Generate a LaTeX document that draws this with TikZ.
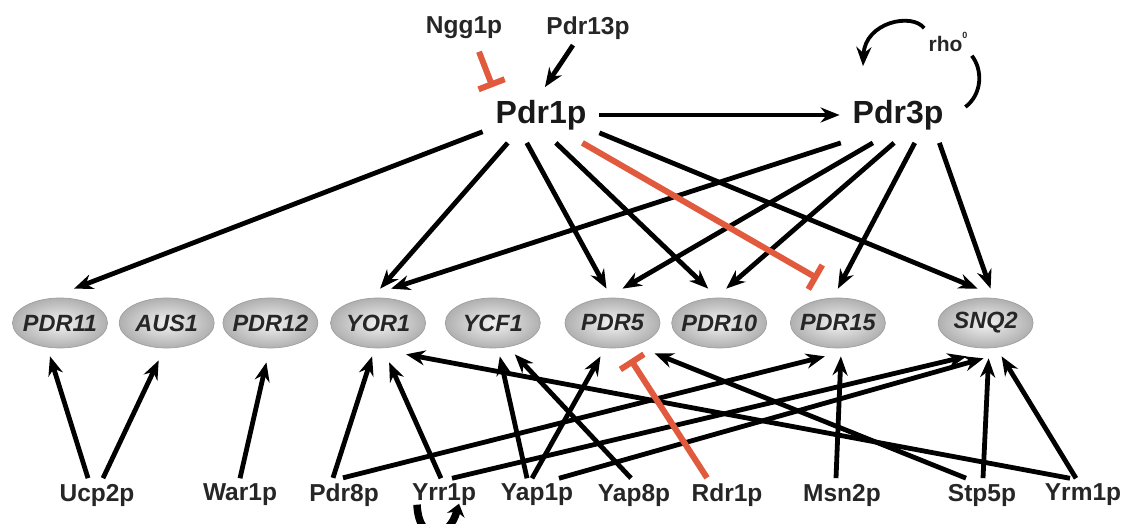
\documentclass[tikz,border=0pt]{standalone}
\usepackage{fontspec}
\setmainfont{Liberation Sans}
\usepackage{tikz}
\usetikzlibrary{positioning,shapes.geometric,arrows.meta}
\usepackage{xcolor}
\definecolor{inhib}{RGB}{226,90,62}

\begin{document}
\begin{tikzpicture}[%
    x=1pt,y=1pt,->,>={Stealth[length=19pt,width=15pt]},line width=4.8pt,
    gene/.style={%
      ellipse,minimum width=95pt,minimum height=50pt,inner xsep=-8pt,inner ysep=0pt,
      draw=gray!75,line width=0.7pt,inner color=gray!10,outer color=gray!62,
      font=\fontsize{23.5}{28}\selectfont\bfseries\itshape,text=black!85},
    factor/.style={font=\fontsize{24.5}{28}\selectfont\bfseries,text=black!85},
    hub/.style={minimum width=112pt,minimum height=51pt,inner sep=0pt,
      font=\fontsize{32}{36}\selectfont\bfseries,text=black!90},
    inhibit/.style={-{Bar[width=28pt]},draw=inhib,line width=6pt}
  ]
    \useasboundingbox (0,0) rectangle (1122,524);

    \node[factor] (ngg1)  at (464,496) {Ngg1p};
    \node[factor] (pdr13) at (588,496) {Pdr13p};
    \node[hub]    (pdr1)  at (541,409) {Pdr1p};
    \node[hub]    (pdr3)  at (898,409) {Pdr3p};
    \node[font=\fontsize{21}{24}\selectfont\bfseries,text=black!85,inner sep=2pt]
                  (rho)   at (948,482) {rho\raisebox{1.1ex}{\fontsize{9}{10}\selectfont 0}};

    \node[gene] (pdr11) at (60,201)                          {PDR11};
    \node[gene] (aus1)  [node distance=11pt, right=of pdr11] {AUS1};
    \node[gene] (pdr12) [node distance=8pt, right=of aus1]   {PDR12};
    \node[gene] (yor1)  [node distance=12pt, right=of pdr12] {YOR1};
    \node[gene] (ycf1)  [node distance=19pt, right=of yor1]  {YCF1};
    \node[gene] (pdr5)  [node distance=24pt, right=of ycf1]  {PDR5};
    \node[gene] (pdr10) [node distance=11pt, right=of pdr5]  {PDR10};
    \node[gene] (pdr15) [node distance=23pt, right=of pdr10] {PDR15};
    \node[gene] (snq2)  [node distance=52pt, right=of pdr15] {SNQ2};

    \node[factor] (ucp2p) at (97,29)   {Ucp2p};
    \node[factor] (war1)  at (240,29)  {War1p};
    \node[factor] (pdr8)  at (344,29)  {Pdr8p};
    \node[factor] (yrr1)  at (444,29)  {Yrr1p};
    \node[factor] (yap1)  at (537,29)  {Yap1p};
    \node[factor] (yap8)  at (634,29)  {Yap8p};
    \node[factor] (rdr1)  at (727,29)  {Rdr1p};
    \node[factor] (msn2)  at (842,29)  {Msn2p};
    \node[factor] (stp5)  at (982,29)  {Stp5p};
    \node[factor] (yrm1)  at (1083,29) {Yrm1p};

    \path ([xshift=-15pt]pdr13.south) edge (pdr1.82)
          (pdr1) edge (pdr3);
    \path ([xshift=15pt,yshift=-7pt]ngg1.south) edge[inhibit] (pdr1.150);
    \draw[-,line width=3.8pt] ([xshift=9pt,yshift=8pt]pdr3.east)
          .. controls +(17,13) and +(11,-14) .. (rho.south east);
    \draw[line width=3.8pt] (rho.north west)
          .. controls +(-12,16) and +(2,44) .. ([xshift=-35pt,yshift=21pt]pdr3.north);

    \path (pdr1.-164) edge ([xshift=14pt,yshift=9pt]pdr11.north)
          (pdr1.-140) edge ([xshift=2pt,yshift=9pt]yor1.north)
          (pdr1.-117) edge ([xshift=-6pt,yshift=9pt]pdr5.north)
          (pdr1.-62)  edge ([xshift=-11pt,yshift=9pt]pdr10.north)
          (pdr1.-17)  edge ([xshift=-8pt,yshift=9pt]snq2.north)
          (pdr3.-154) edge ([xshift=13pt,yshift=9pt]yor1.north)
          (pdr3.-132) edge ([xshift=10pt,yshift=9pt]pdr5.north)
          (pdr3.-98)  edge ([xshift=7pt,yshift=9pt]pdr10.north)
          (pdr3.-59)  edge ([yshift=9pt]pdr15.north)
          (pdr3.-34)  edge ([xshift=5pt,yshift=9pt]snq2.north);
    \path (pdr1.-34) edge[inhibit] ([xshift=-20pt,yshift=19pt]pdr15.north);

    \path ([xshift=-9pt]ucp2p.north)  edge ([xshift=-10pt,yshift=-8pt]pdr11.south)
          ([xshift=6pt]ucp2p.north)   edge ([xshift=-8pt,yshift=-12pt]aus1.south)
          (war1.north)                edge ([xshift=-4pt,yshift=-14pt]pdr12.south)
          ([xshift=-11pt]pdr8.north)  edge ([xshift=-6pt,yshift=-8pt]yor1.south)
          ([xshift=-1pt]pdr8.north)   edge ([xshift=-13pt,yshift=-8pt]pdr15.south)
          ([xshift=-3pt]yrr1.north)   edge ([xshift=11pt,yshift=-14pt]yor1.south)
          ([xshift=8pt]yrr1.north)    edge ([xshift=-19pt,yshift=-8pt]snq2.south)
          ([xshift=-10pt]yap1.north)  edge ([xshift=7pt,yshift=-8pt]ycf1.south)
          ([xshift=-5pt]yap1.north)   edge ([xshift=-12pt,yshift=-8pt]pdr5.south)
          ([xshift=22pt]yap1.north)   edge ([xshift=-2pt,yshift=-10pt]snq2.south)
          ([xshift=-3pt]yap8.north)   edge ([xshift=22pt,yshift=-6pt]ycf1.south)
          ([xshift=-6pt]msn2.north)   edge ([xshift=3pt,yshift=-8pt]pdr15.south)
          ([xshift=-16pt]stp5.north)  edge ([xshift=42pt,yshift=-5pt]pdr5.south)
          ([xshift=1pt]stp5.north)    edge ([xshift=3pt,yshift=-10pt]snq2.south)
          ([xshift=-13pt]yrm1.north)  edge ([xshift=28pt,yshift=-6pt]yor1.south)
          ([xshift=-7pt]yrm1.north)   edge ([xshift=16pt,yshift=-8pt]snq2.south);
    \path ([xshift=-20pt]rdr1.north) edge[inhibit] ([xshift=18pt,yshift=-11pt]pdr5.south);

    \draw[line width=7.5pt,-{Stealth[length=12pt,width=18pt]}]
          ([xshift=-27pt,yshift=7pt]yrr1.south)
          .. controls +(2,-40) and +(-10,-36) .. ([xshift=15pt,yshift=8pt]yrr1.south);
  \end{tikzpicture}
\end{document}
